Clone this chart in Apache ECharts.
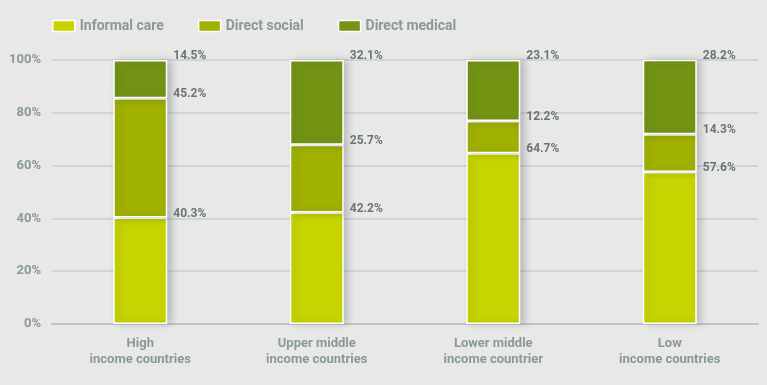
<!DOCTYPE html>
<html><head><meta charset="utf-8">
<script src="https://cdn.jsdelivr.net/npm/echarts@6/dist/echarts.min.js"></script>
<style>html,body{margin:0;padding:0;background:#e8e9e7;}#c{width:767px;height:385px;}</style>
</head><body><div id="c"></div>
<script>
const categories = ['High\nincome countries', 'Upper middle\nincome countries', 'Lower middle\nincome countrier', 'Low\nincome countries'];
const informalCare = [40.3, 42.2, 64.7, 57.6];
const directSocial = [45.2, 25.7, 12.2, 14.3];
const directMedical = [14.5, 32.1, 23.1, 28.2];
const seriesNames = ['Informal care', 'Direct social', 'Direct medical'];
const colors = ['#c8d400', '#a0b100', '#739313'];
const FONT = 'Roboto, "DejaVu Sans Condensed", sans-serif';

function mk(name, data, color) {
  return {
    name: name, type: 'bar', stack: 'total', data: data, barWidth: 54,
    itemStyle: { color: color, borderColor: '#ffffff', borderWidth: 1.5,
      shadowBlur: 7, shadowColor: 'rgba(60,70,80,0.28)', shadowOffsetX: 4, shadowOffsetY: 0 },
    label: { show: true, position: ['100%', 0], offset: [6, -4], align: 'left', verticalAlign: 'middle',
      formatter: p => p.value.toFixed(1) + '%', color: '#6a7478', fontFamily: FONT, fontSize: 12, fontWeight: 'bold' }
  };
}

const chart = echarts.init(document.getElementById('c'));
chart.setOption({
  backgroundColor: '#e8e9e7',
  animation: false,
  legend: {
    left: 47, top: 14, itemWidth: 22, itemHeight: 11, itemGap: 34,
    icon: 'rect',
    itemStyle: { borderColor: '#ffffff', borderWidth: 1.5 },
    textStyle: { color: '#8a989e', fontFamily: FONT, fontSize: 14, fontWeight: 'bold' },
    data: seriesNames
  },
  grid: { left: 52, right: 9, top: 60, bottom: 61 },
  xAxis: {
    type: 'category', data: categories,
    axisLine: { show: true, lineStyle: { color: '#bcc4c8', width: 2 } },
    axisTick: { show: false },
    axisLabel: { color: '#8a989e', fontFamily: FONT, fontSize: 13, fontWeight: 'bold', lineHeight: 16, margin: 12 }
  },
  yAxis: {
    type: 'value', min: 0, max: 100, interval: 20,
    axisLine: { show: false }, axisTick: { show: false },
    splitLine: { lineStyle: { color: '#c6ced2', width: 1.5 } },
    axisLabel: { formatter: '{value}%', color: '#8a989e', fontFamily: FONT, fontSize: 13, fontWeight: 'bold', margin: 11, padding: [7, 0, 0, 0] }
  },
  series: [
    mk(seriesNames[0], informalCare, colors[0]),
    mk(seriesNames[1], directSocial, colors[1]),
    mk(seriesNames[2], directMedical, colors[2])
  ]
});
</script></body></html>
